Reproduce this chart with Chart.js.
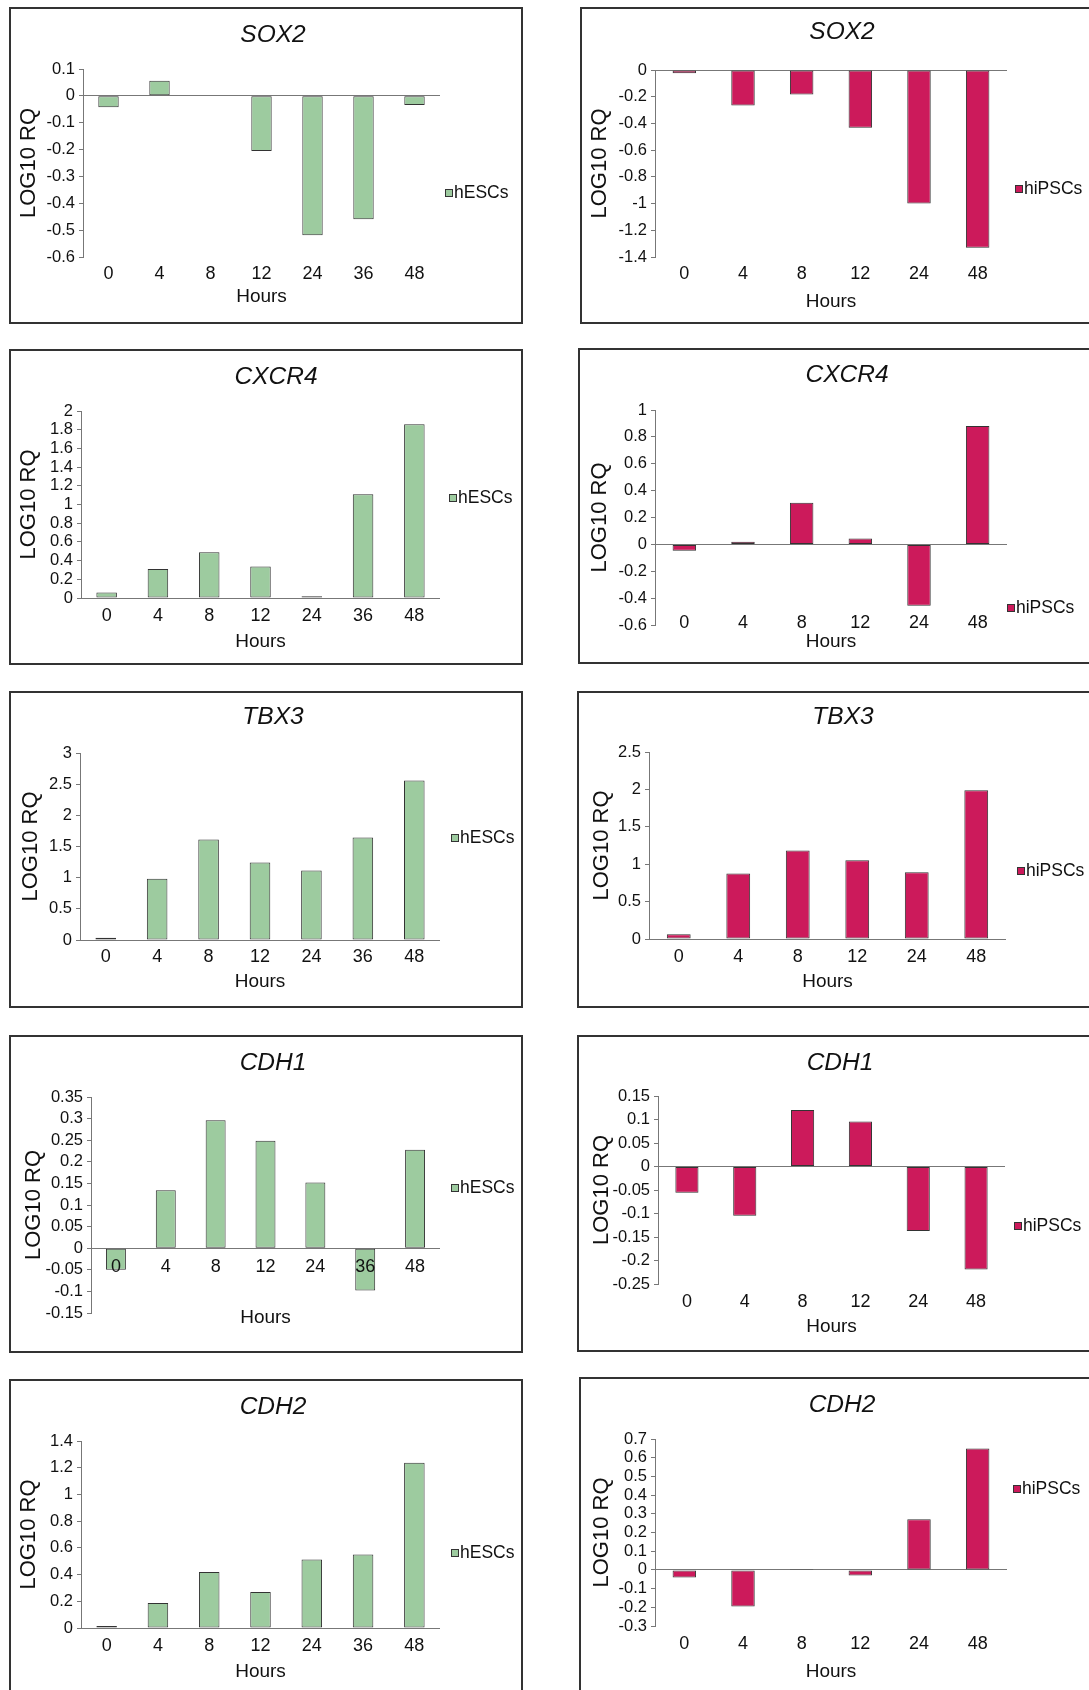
<!DOCTYPE html>
<html>
<head>
<meta charset="utf-8">
<script src="https://cdn.jsdelivr.net/npm/chart.js@4.4.1/dist/chart.umd.min.js"></script>
<style>
html, body { margin: 0; padding: 0; background: #fff; width: 1089px; height: 1690px; overflow: hidden; position: relative; }
.frame { position: absolute; border: 2px solid #333; box-sizing: border-box; }
canvas { position: absolute; }
</style>
</head>
<body>
<script>
// hours on the x axis
var hoursES = ['0', '4', '8', '12', '24', '36', '48'];
var hoursIPS = ['0', '4', '8', '12', '24', '48'];

// LOG10 RQ values
var sox2ES = [-0.042, 0.056, 0.002, -0.205, -0.519, -0.459, -0.034];
var sox2IPS = [-0.025, -0.265, -0.183, -0.433, -1.0, -1.33];
var cxcr4ES = [0.06, 0.31, 0.49, 0.338, 0.018, 1.11, 1.858];
var cxcr4IPS = [-0.047, 0.02, 0.309, 0.044, -0.457, 0.881];
var tbx3ES = [0.035, 0.982, 1.612, 1.244, 1.116, 1.644, 2.557];
var tbx3IPS = [0.062, 0.876, 1.183, 1.054, 0.894, 1.988];
var cdh1ES = [-0.05, 0.134, 0.296, 0.249, 0.152, -0.098, 0.228];
var cdh1IPS = [-0.056, -0.105, 0.12, 0.096, -0.137, -0.219];
var cdh2ES = [0.015, 0.188, 0.42, 0.27, 0.513, 0.55, 1.238];
var cdh2IPS = [-0.041, -0.196, 0.005, -0.03, 0.271, 0.649];

// y axis ticks: [min, max, step]
var sox2ESTicks = [-0.6, 0.1, 0.1];
var sox2IPSTicks = [-1.4, 0, 0.2];
var cxcr4ESTicks = [0, 2, 0.2];
var cxcr4IPSTicks = [-0.6, 1, 0.2];
var tbx3ESTicks = [0, 3, 0.5];
var tbx3IPSTicks = [0, 2.5, 0.5];
var cdh1ESTicks = [-0.15, 0.35, 0.05];
var cdh1IPSTicks = [-0.25, 0.15, 0.05];
var cdh2ESTicks = [0, 1.4, 0.2];
var cdh2IPSTicks = [-0.3, 0.7, 0.1];

var GREEN = '#9dcb9f';
var PINK = '#cc1a5b';
var FONT = '"Liberation Sans", Arial, sans-serif';
var fonts = { tick: 16.5, cat: 18, hours: 19, yTitle: 22, title: 24.5, legend: 17.5 };

// page layout of every panel (frame, plot area, label spots)
var panels = [
  { gene: 'SOX2', label: 'hESCs', cats: hoursES, values: sox2ES, ticks: sox2ESTicks, color: GREEN,
    frame: [9, 7, 523, 324], area: [83, 69, 440, 257], catY: 274, hoursY: 297, yTitleX: 29, title: [273, 35], legend: [445, 193] },
  { gene: 'SOX2', label: 'hiPSCs', cats: hoursIPS, values: sox2IPS, ticks: sox2IPSTicks, color: PINK,
    frame: [580, 7, 1100, 324], area: [655, 70, 1007, 257], catY: 274, hoursY: 302, yTitleX: 600, title: [842, 32], legend: [1015, 189] },
  { gene: 'CXCR4', label: 'hESCs', cats: hoursES, values: cxcr4ES, ticks: cxcr4ESTicks, color: GREEN,
    frame: [9, 349, 523, 665], area: [81, 411, 440, 598], catY: 616, hoursY: 642, yTitleX: 29, title: [276, 377], legend: [449, 498] },
  { gene: 'CXCR4', label: 'hiPSCs', cats: hoursIPS, values: cxcr4IPS, ticks: cxcr4IPSTicks, color: PINK,
    frame: [578, 348, 1100, 664], area: [655, 410, 1007, 625], catY: 623, hoursY: 642, yTitleX: 600, title: [847, 375], legend: [1007, 608] },
  { gene: 'TBX3', label: 'hESCs', cats: hoursES, values: tbx3ES, ticks: tbx3ESTicks, color: GREEN,
    frame: [9, 691, 523, 1008], area: [80, 753, 440, 940], catY: 957, hoursY: 982, yTitleX: 31, title: [273, 717], legend: [451, 838] },
  { gene: 'TBX3', label: 'hiPSCs', cats: hoursIPS, values: tbx3IPS, ticks: tbx3IPSTicks, color: PINK,
    frame: [577, 691, 1100, 1008], area: [649, 752, 1006, 939], catY: 957, hoursY: 982, yTitleX: 602, title: [843, 717], legend: [1017, 871] },
  { gene: 'CDH1', label: 'hESCs', cats: hoursES, values: cdh1ES, ticks: cdh1ESTicks, color: GREEN,
    frame: [9, 1035, 523, 1353], area: [91, 1097, 440, 1313], catY: 1267, hoursY: 1318, yTitleX: 34, title: [273, 1063], legend: [451, 1188] },
  { gene: 'CDH1', label: 'hiPSCs', cats: hoursIPS, values: cdh1IPS, ticks: cdh1IPSTicks, color: PINK,
    frame: [577, 1035, 1100, 1352], area: [658, 1096, 1005, 1284], catY: 1302, hoursY: 1327, yTitleX: 602, title: [840, 1063], legend: [1014, 1226] },
  { gene: 'CDH2', label: 'hESCs', cats: hoursES, values: cdh2ES, ticks: cdh2ESTicks, color: GREEN,
    frame: [9, 1379, 523, 1710], area: [81, 1441, 440, 1628], catY: 1646, hoursY: 1672, yTitleX: 29, title: [273, 1407], legend: [451, 1553] },
  { gene: 'CDH2', label: 'hiPSCs', cats: hoursIPS, values: cdh2IPS, ticks: cdh2IPSTicks, color: PINK,
    frame: [579, 1377, 1100, 1710], area: [655, 1439, 1007, 1626], catY: 1644, hoursY: 1672, yTitleX: 602, title: [842, 1405], legend: [1013, 1489] }
];

// gene title and the little legend at the side
var decor = {
  id: 'panelDecor',
  afterDraw: function (chart, args, o) {
    var ctx = chart.ctx;
    var ds = chart.data.datasets[0];
    ctx.save();
    ctx.fillStyle = '#111';
    ctx.font = 'italic ' + fonts.title + 'px ' + FONT;
    ctx.textAlign = 'center';
    ctx.textBaseline = 'middle';
    ctx.fillText(o.title, o.titleX, o.titleY);
    var s = 8;
    ctx.fillStyle = ds.backgroundColor;
    ctx.fillRect(o.legX, o.legY - s / 2, s, s);
    ctx.strokeStyle = '#333';
    ctx.lineWidth = 1;
    ctx.strokeRect(o.legX + 0.5, o.legY - s / 2 + 0.5, s - 1, s - 1);
    ctx.fillStyle = '#111';
    ctx.font = fonts.legend + 'px ' + FONT;
    ctx.textAlign = 'left';
    ctx.fillText(ds.label, o.legX + s + 1, o.legY);
    ctx.restore();
  }
};

function makePanel(p) {
  var fx = p.frame[0], fy = p.frame[1];
  var w = Math.min(p.frame[2], 1089) - fx;
  var h = Math.min(p.frame[3], 1690) - fy;

  var box = document.createElement('div');
  box.className = 'frame';
  box.style.left = fx + 'px';
  box.style.top = fy + 'px';
  box.style.width = (p.frame[2] - fx) + 'px';
  box.style.height = (p.frame[3] - fy) + 'px';
  document.body.appendChild(box);

  var cv = document.createElement('canvas');
  cv.width = w;
  cv.height = h;
  cv.style.left = fx + 'px';
  cv.style.top = fy + 'px';
  document.body.appendChild(cv);

  var al = p.area[0], at = p.area[1], ar = p.area[2], ab = p.area[3];
  var padL = 4;
  var yw = al - fx - padL;
  var xh = p.hoursY + fonts.hours * 0.6 - ab;
  // mirrored labels are not clipped to the axis band; with mirror the padding runs upwards
  var tickPad = ab - p.catY - fonts.cat * 0.6;
  var yTitlePad = p.yTitleX - fx - padL - fonts.yTitle * 0.6;

  new Chart(cv, {
    type: 'bar',
    data: {
      labels: p.cats,
      datasets: [{
        label: p.label,
        data: p.values,
        backgroundColor: p.color,
        borderColor: '#333',
        borderWidth: 1,
        borderSkipped: false,
        barPercentage: 0.4,
        categoryPercentage: 1
      }]
    },
    options: {
      responsive: false,
      animation: false,
      events: [],
      layout: { padding: { left: padL, top: at - fy, right: fx + w - ar, bottom: fy + h - ab - xh } },
      plugins: {
        legend: { display: false },
        tooltip: { enabled: false },
        panelDecor: { title: p.gene, titleX: p.title[0] - fx, titleY: p.title[1] - fy, legX: p.legend[0] - fx, legY: p.legend[1] - fy }
      },
      scales: {
        x: {
          offset: true,
          grid: { display: false, drawTicks: false },
          border: { display: false },
          ticks: { z: 1, mirror: true, padding: tickPad, color: '#111', font: { family: FONT, size: fonts.cat }, maxRotation: 0, autoSkip: false },
          title: { display: true, text: 'Hours', color: '#111', font: { family: FONT, size: fonts.hours }, padding: 0 },
          afterFit: function (s) { s.height = xh; }
        },
        y: {
          min: p.ticks[0],
          max: p.ticks[1],
          grid: {
            color: function (c) { return c.tick && Math.abs(c.tick.value) < 1e-9 ? '#777' : 'transparent'; },
            tickColor: '#777',
            tickLength: 4,
            lineWidth: 1
          },
          border: { color: '#777', width: 1 },
          ticks: {
            stepSize: p.ticks[2],
            autoSkip: false,
            padding: 4,
            color: '#111',
            font: { family: FONT, size: fonts.tick },
            callback: function (v) { return String(Math.round(v * 1000) / 1000); }
          },
          title: { display: true, text: 'LOG10 RQ', color: '#111', font: { family: FONT, size: fonts.yTitle }, padding: { top: yTitlePad, bottom: 0 } },
          afterFit: function (s) { s.width = yw; }
        }
      }
    },
    plugins: [decor]
  });
}

panels.forEach(makePanel);
</script>
</body>
</html>
